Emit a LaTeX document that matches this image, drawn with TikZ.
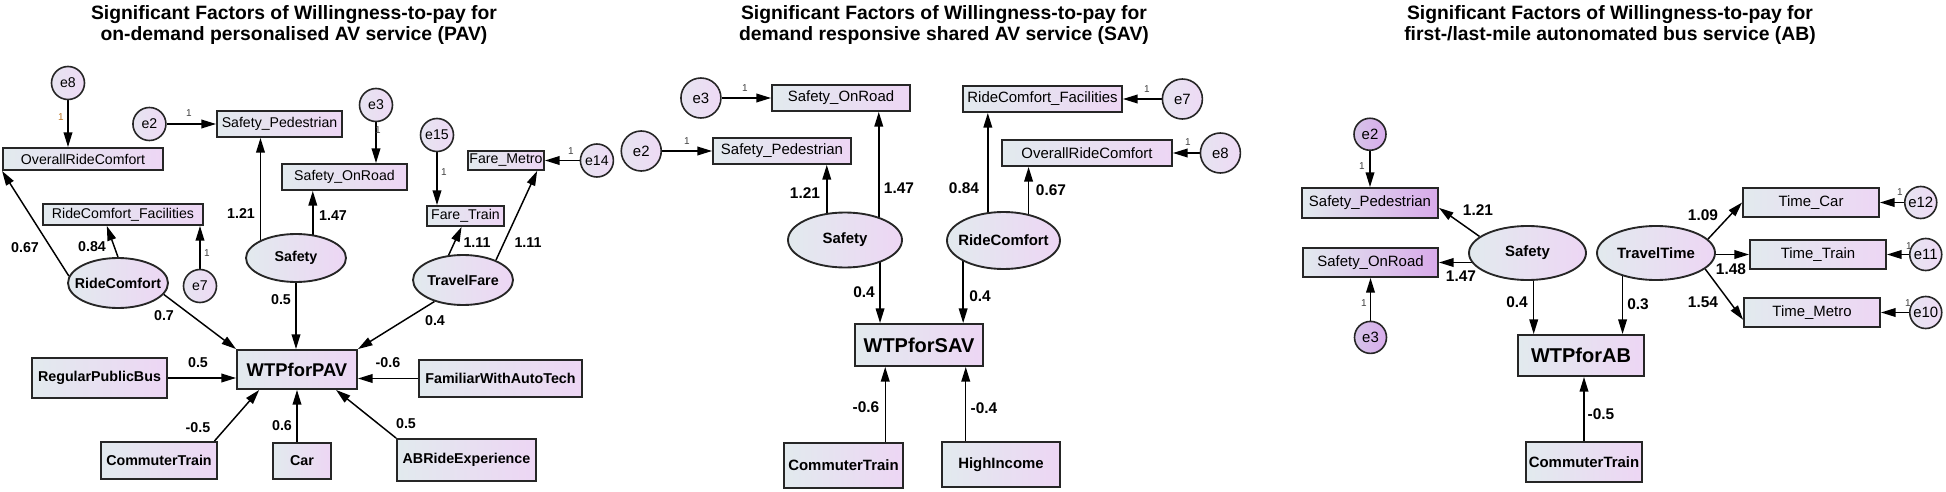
\documentclass[tikz,border=0pt]{standalone}
\usepackage{fontspec}
\setmainfont{Liberation Sans}
\usetikzlibrary{positioning,shapes.geometric,arrows.meta,calc,backgrounds}
\definecolor{boxL}{RGB}{226,234,238}
\definecolor{boxR}{RGB}{237,214,244}
\definecolor{boxRd}{RGB}{216,170,234}
\definecolor{errL}{RGB}{230,228,240}
\definecolor{errR}{RGB}{238,218,245}
\definecolor{errdL}{RGB}{214,196,232}
\definecolor{errdR}{RGB}{216,172,236}
\definecolor{oneC}{RGB}{190,120,40}
\newcommand{\latname}[1]{\makebox[0pt]{#1}}

\begin{document}
\begin{tikzpicture}[x=0.75pt,y=-0.75pt,
    sz/.style 2 args={minimum width=#1*0.75pt,minimum height=#2*0.75pt}]
        \tikzstyle{obs}=[rectangle,draw=black!85,line width=1.4pt,inner sep=0pt,left color=boxL,right color=boxR]
        \tikzstyle{obsd}=[obs,right color=boxRd]
        \tikzstyle{lat}=[ellipse,draw=black!85,line width=1.4pt,inner sep=0pt,left color=boxL,right color=boxR]
        \tikzstyle{err}=[circle,draw=black!85,line width=1.2pt,inner sep=0pt,minimum size=24.75pt,left color=errL,right color=errR]
        \tikzstyle{errs}=[err,minimum size=30pt]
        \tikzstyle{erra}=[err,minimum size=24pt]
        \tikzstyle{errd}=[err,minimum size=24pt,left color=errdL,right color=errdR]
        \tikzstyle{ft}=[font=\fontsize{10.6}{12}\selectfont]
        \tikzstyle{ftb}=[font=\bfseries\fontsize{10.7}{12}\selectfont]
        \tikzstyle{fs}=[font=\fontsize{11.2}{13}\selectfont]
        \tikzstyle{fsb}=[font=\bfseries\fontsize{11.2}{13}\selectfont]
        \tikzstyle{fw}=[font=\bfseries\fontsize{15}{17}\selectfont]
        \tikzstyle{lbl}=[inner sep=0pt,font=\bfseries\fontsize{10.7}{12}\selectfont]
        \tikzstyle{lbls}=[inner sep=0pt,font=\bfseries\fontsize{11.6}{13}\selectfont]
        \tikzstyle{fixlbl}=[inner sep=0pt,text=black!75,font=\fontsize{7.5}{8}\selectfont]
        \tikzstyle{ttl}=[inner sep=0pt,anchor=north,align=center,font=\bfseries\fontsize{14.5}{15.75}\selectfont]
        \tikzstyle{arr}=[-{Triangle[length=11pt,width=6.5pt]},line width=1.1pt]
        \useasboundingbox (0,0) rectangle (1946,492);

        % titles
        \node[ttl] (tPAV) at (294,5) {Significant Factors of Willingness-to-pay for\\on-demand personalised AV service (PAV)};
        \node[ttl] (tSAV) at (944,5) {Significant Factors of Willingness-to-pay for\\demand responsive shared AV service (SAV)};
        \node[ttl] (tAB) at (1610,5) {Significant Factors of Willingness-to-pay for\\first-/last-mile autonomated bus service (AB)};

        % PAV model
        \node[obs,sz={160}{22},ft] (pORC) at (83,159) {OverallRideComfort};
        \node[obs,sz={125}{26},ft] (pSP) at (279.5,124) {Safety\_Pedestrian};
        \node[obs,sz={125}{26},ft] (pSOR) at (344.5,177) {Safety\_OnRoad};
        \node[obs,sz={77}{20},ft] (pFT) at (465.5,216) {Fare\_Train};
        \node[obs,sz={76}{19},ft] (pFM) at (506,160.5) {Fare\_Metro};
        \node[obs,sz={160}{21},ft] (pRCF) at (123,214.5) {RideComfort\_Facilities};
        \node[err,ft] (pe8) at (68,83) {e8};
        \node[err,ft] (pe2) [left=37pt of pSP] {e2};
        \node[err,ft] (pe3) at (376,105) {e3};
        \node[err,ft] (pe15) at (437,135) {e15};
        \node[err,ft] (pe14) [right=26pt of pFM] {e14};
        \node[err,ft] (pe7) at (200,286) {e7};
        \node[lat,sz={100}{50},ftb] (pRC) at (118,283) {\latname{RideComfort}};
        \node[lat,sz={100}{48},ftb] (pSaf) at (296,258) {\latname{Safety}};
        \node[lat,sz={100}{50},ftb] (pTF) at (463,280) {\latname{TravelFare}};
        \node[obs,sz={120}{39},font=\bfseries\fontsize{13.8}{15}\selectfont] (pWTP) at (297,369.5) {WTPforPAV};
        \node[obs,sz={135}{40},ftb] (pRPB) at (99.5,378) {RegularPublicBus};
        \node[obs,sz={163}{37},ftb] (pFWAT) at (500.5,378.5) {FamiliarWithAutoTech};
        \node[obs,sz={116}{37},ftb] (pCT) at (159,460.5) {CommuterTrain};
        \node[obs,sz={58}{36},ftb] (pCar) at (302,461) {Car};
        \node[obs,sz={139}{42},ftb] (pABR) at (466.5,460) {ABRideExperience};
        \coordinate (pRCFb) at ($(pRCF.south west)!0.4!(pRCF.south east)$);
        \coordinate (pSPb) at ($(pSP.south west)!0.35!(pSP.south east)$);
        \coordinate (pSORb) at ($(pSOR.south west)!0.25!(pSOR.south east)$);
        \coordinate (pFTb) at ($(pFT.south west)!0.45!(pFT.south east)$);
        \coordinate (pFMb) at ($(pFM.south west)!0.9!(pFM.south east)$);
        \coordinate (pWTPct) at ($(pWTP.south west)!0.19!(pWTP.south east)$);
        \coordinate (pWTPab) at ($(pWTP.south west)!0.82!(pWTP.south east)$);
        \coordinate (pCTt) at ($(pCT.north west)!0.97!(pCT.north east)$);
        \begin{pgfonlayer}{background}
        \draw[arr] (pe8) -- (pe8 |- pORC.north);
        \draw[arr] (pe2) -- (pe2 -| pSP.west);
        \draw[arr] (pe3) -- (pe3 |- pSOR.north);
        \draw[arr] (pe15) -- (pe15 |- pFT.north);
        \draw[arr] (pe14) -- (pe14 -| pFM.east);
        \draw[arr] (pe7) -- (pe7 |- pRCF.south);
        \draw[arr] (pRC.172) -- (pORC.south west);
        \draw[arr] (pRC.north) -- (pRCFb);
        \draw[arr] (pSPb |- pSaf.center) -- (pSPb);
        \draw[arr] (pSORb |- pSaf.center) -- (pSORb);
        \draw[arr] (pTF.120) -- (pFTb);
        \draw[arr] (pTF.31) -- (pFMb);
        \draw[arr] (pRC.346) -- (pWTP.north west);
        \draw[arr] (pSaf) -- (pSaf |- pWTP.north);
        \draw[arr] (pTF.217) -- (pWTP.north east);
        \draw[arr] (pRPB) -- (pRPB -| pWTP.west);
        \draw[arr] (pFWAT) -- (pFWAT -| pWTP.east);
        \draw[arr] (pCTt) -- (pWTPct);
        \draw[arr] (pWTP.south |- pCar.north) -- (pWTP.south);
        \draw[arr] (pABR.north west) -- (pWTPab);
        \end{pgfonlayer}
        \node[fixlbl,text=oneC] (pf8) at (61,117) {1};
        \node[fixlbl] (pf2) at (189,113) {1};
        \node[fixlbl] (pf3) at (378,130) {1};
        \node[fixlbl] (pf15) at (444,172) {1};
        \node[fixlbl] (pf14) at (571,151) {1};
        \node[fixlbl] (pf7) at (207,253) {1};
        \node[lbl] (pl1) at (25,248) {0.67};
        \node[lbl] (pl2) at (92,247) {0.84};
        \node[lbl] (pl3) at (241,214) {1.21};
        \node[lbl] (pl4) at (333,216) {1.47};
        \node[lbl] (pl5) at (477,243) {1.11};
        \node[lbl] (pl6) at (528,243) {1.11};
        \node[lbl] (pl7) at (164,316) {0.7};
        \node[lbl] (pl8) at (281,300) {0.5};
        \node[lbl] (pl9) at (435,321) {0.4};
        \node[lbl] (pl10) at (198,363) {0.5};
        \node[lbl] (pl11) at (388,363) {-0.6};
        \node[lbl] (pl12) at (198,428) {-0.5};
        \node[lbl] (pl13) at (282,426) {0.6};
        \node[lbl] (pl14) at (406,424) {0.5};

        % SAV model
        \node[obs,sz={138}{26},fs] (sSOR) at (841,98) {Safety\_OnRoad};
        \node[obs,sz={138}{26},fs] (sSP) at (782,151) {Safety\_Pedestrian};
        \node[obs,sz={159}{26},fs] (sRCF) at (1042.5,99) {RideComfort\_Facilities};
        \node[obs,sz={170}{26},fs] (sORC) at (1087,153) {OverallRideComfort};
        \node[errs,fs] (se3) [left=37pt of sSOR] {e3};
        \node[errs,fs] (se2) [left=37.5pt of sSP] {e2};
        \node[errs,fs] (se7) [right=29pt of sRCF] {e7};
        \node[errs,fs] (se8) [right=20pt of sORC] {e8};
        \node[lat,sz={114}{55},fsb] (sSaf) at (845,240) {\latname{Safety}};
        \node[lat,sz={113}{57},fsb] (sRC) at (1003.5,240.5) {\latname{RideComfort}};
        \node[obs,sz={128}{42},fw] (sWTP) at (919,345) {WTPforSAV};
        \node[obs,sz={119}{45},fsb] (sCT) at (843.5,465.5) {CommuterTrain};
        \node[obs,sz={118}{45},fsb] (sHI) at (1001,464.5) {HighIncome};
        \coordinate (sSPb) at ($(sSP.south west)!0.82!(sSP.south east)$);
        \coordinate (sSORb) at ($(sSOR.south west)!0.77!(sSOR.south east)$);
        \coordinate (sRCFb) at ($(sRCF.south west)!0.16!(sRCF.south east)$);
        \coordinate (sORCb) at ($(sORC.south west)!0.16!(sORC.south east)$);
        \coordinate (sWTPl) at ($(sWTP.north west)!0.2!(sWTP.north east)$);
        \coordinate (sWTPr) at ($(sWTP.north west)!0.84!(sWTP.north east)$);
        \coordinate (sWTPbl) at ($(sWTP.south west)!0.24!(sWTP.south east)$);
        \coordinate (sWTPbr) at ($(sWTP.south west)!0.86!(sWTP.south east)$);
        \begin{pgfonlayer}{background}
        \draw[arr] (se3) -- (se3 -| sSOR.west);
        \draw[arr] (se2) -- (se2 -| sSP.west);
        \draw[arr] (se7) -- (se7 -| sRCF.east);
        \draw[arr] (se8) -- (se8 -| sORC.east);
        \draw[arr] (sSPb |- sSaf.center) -- (sSPb);
        \draw[arr] (sSORb |- sSaf.center) -- (sSORb);
        \draw[arr] (sRCFb |- sRC.center) -- (sRCFb);
        \draw[arr] (sORCb |- sRC.center) -- (sORCb);
        \draw[arr] (sWTPl |- sSaf.center) -- (sWTPl);
        \draw[arr] (sWTPr |- sRC.center) -- (sWTPr);
        \draw[arr] (sWTPbl |- sCT.center) -- (sWTPbl);
        \draw[arr] (sWTPbr |- sHI.center) -- (sWTPbr);
        \end{pgfonlayer}
        \node[fixlbl] (sf3) at (745,88) {1};
        \node[fixlbl] (sf2) at (687,141) {1};
        \node[fixlbl] (sf7) at (1147,89) {1};
        \node[fixlbl] (sf8) at (1188,142) {1};
        \node[lbls] (sl1) at (805,193) {1.21};
        \node[lbls] (sl2) at (899,188) {1.47};
        \node[lbls] (sl3) at (964,188) {0.84};
        \node[lbls] (sl4) at (1051,190) {0.67};
        \node[lbls] (sl5) at (864,292) {0.4};
        \node[lbls] (sl6) at (980,296) {0.4};
        \node[lbls] (sl7) at (866,407) {-0.6};
        \node[lbls] (sl8) at (984,408) {-0.4};

        % AB model
        \node[obsd,sz={136}{30},fs] (aSP) at (1370,203) {Safety\_Pedestrian};
        \node[obsd,sz={135}{29},fs] (aSOR) at (1370.5,262.5) {Safety\_OnRoad};
        \node[errd,fs] (ae2) [above=27pt of aSP] {e2};
        \node[errd,fs] (ae3) [below=32pt of aSOR] {e3};
        \node[lat,sz={117}{54},fsb] (aSaf) at (1527.5,253) {\latname{Safety}};
        \node[lat,sz={118}{54},fsb] (aTT) at (1656,253) {\latname{TravelTime}};
        \node[obs,sz={126}{41},fw] (aWTP) at (1581,355.5) {WTPforAB};
        \node[obs,sz={116}{40},fsb] (aCT) at (1584,462) {CommuterTrain};
        \node[obs,sz={136}{29},fs] (aTC) at (1811,202.5) {Time\_Car};
        \node[obs,sz={136}{29},fs] (aTTr) at (1818,254.5) {Time\_Train};
        \node[obs,sz={136}{29},fs] (aTM) at (1812,312.5) {Time\_Metro};
        \node[erra,fs] (ae12) [right=18pt of aTC] {e12};
        \node[erra,fs] (ae11) [right=16.5pt of aTTr] {e11};
        \node[erra,fs] (ae10) [right=21pt of aTM] {e10};
        \coordinate (aWTPl) at ($(aWTP.north west)!0.13!(aWTP.north east)$);
        \coordinate (aWTPr) at ($(aWTP.north west)!0.825!(aWTP.north east)$);
        \begin{pgfonlayer}{background}
        \draw[arr] (ae2) -- (ae2 |- aSP.north);
        \draw[arr] (ae3) -- (ae3 |- aSOR.south);
        \draw[arr] (aSaf.161) -- (aSP.-4);
        \draw[arr] (aSaf.center |- aSOR.east) -- (aSOR.east);
        \draw[arr] (aTT.15) -- (aTC.west);
        \draw[arr] (aTT.center |- aTTr.west) -- (aTTr.west);
        \draw[arr] (aTT.-18) -- (aTM.186);
        \draw[arr] (aWTPl |- aSaf.center) -- (aWTPl);
        \draw[arr] (aWTPr |- aTT.center) -- (aWTPr);
        \draw[arr] (aCT) -- (aCT |- aWTP.south);
        \draw[arr] (ae12) -- (ae12 -| aTC.east);
        \draw[arr] (ae11) -- (ae11 -| aTTr.east);
        \draw[arr] (ae10) -- (ae10 -| aTM.east);
        \end{pgfonlayer}
        \node[fixlbl] (af2) at (1362,166) {1};
        \node[fixlbl] (af3) at (1364,303) {1};
        \node[fixlbl] (af12) at (1900,192) {1};
        \node[fixlbl] (af11) at (1909,246) {1};
        \node[fixlbl] (af10) at (1908,303) {1};
        \node[lbls] (al1) at (1478,210) {1.21};
        \node[lbls] (al2) at (1461,276) {1.47};
        \node[lbls] (al3) at (1517,302) {0.4};
        \node[lbls] (al4) at (1638,304) {0.3};
        \node[lbls] (al5) at (1703,215) {1.09};
        \node[lbls] (al6) at (1731,269) {1.48};
        \node[lbls] (al7) at (1703,302) {1.54};
        \node[lbls] (al8) at (1601,414) {-0.5};
    \end{tikzpicture}
\end{document}
